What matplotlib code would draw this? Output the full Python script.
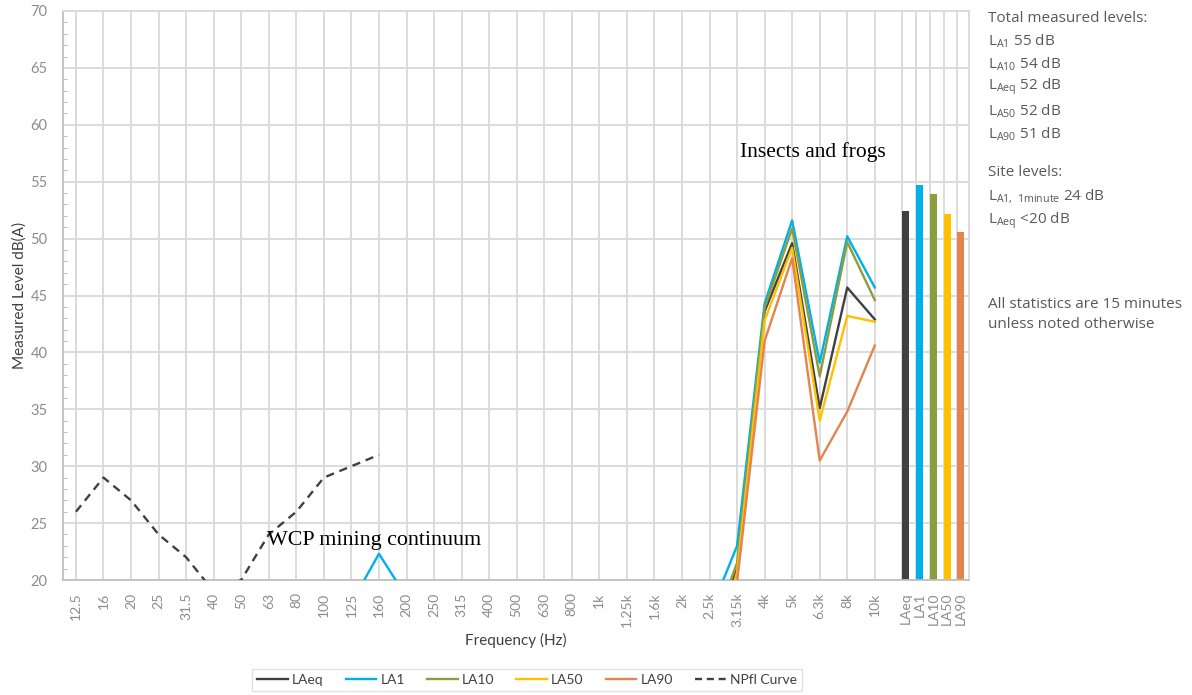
"""Third-octave spectrum at the monitoring site, with the total measured levels.

Lines are the 15 minute statistics per band, the dashed line is the NPfI
curve, and the five bars on the right are the overall A-weighted totals.
Writes out.png.
"""

import matplotlib

matplotlib.use("Agg")
import matplotlib.pyplot as plt
import numpy as np
from matplotlib.lines import Line2D

BANDS = [
    "12.5", "16", "20", "25", "31.5", "40", "50", "63", "80", "100",
    "125", "160", "200", "250", "315", "400", "500", "630", "800", "1k",
    "1.25k", "1.6k", "2k", "2.5k", "3.15k", "4k", "5k", "6.3k", "8k", "10k",
]

# dB(A) per band. Anything under 20 is hidden below the axis; those values
# only matter where a line climbs out through the bottom edge.
LAEQ = [8, 8, 8, 8, 9, 9, 10, 10, 11, 11, 12, 14, 12, 10, 9, 8, 8, 8, 8, 8,
        8, 9, 10, 14, 21.0, 43.6, 49.6, 35.1, 45.7, 42.9]
LA1 = [12, 11, 10, 10, 10, 11, 12, 13, 14, 15, 18, 22.3, 18.5, 13, 12, 11, 11, 10, 10, 10,
       10, 11, 12, 17, 23.0, 44.3, 51.6, 39.1, 50.2, 45.7]
LA10 = [9, 9, 9, 9, 9, 10, 10, 11, 12, 12, 13, 16, 13, 11, 10, 9, 9, 9, 9, 9,
        9, 10, 11, 15, 21.5, 43.9, 50.9, 37.9, 49.7, 44.6]
LA50 = [7, 7, 7, 7, 8, 8, 9, 9, 10, 10, 11, 12, 11, 9, 8, 7, 7, 7, 7, 7,
        7, 8, 9, 12, 20.7, 42.8, 49.2, 34.0, 43.2, 42.7]
LA90 = [6, 6, 6, 6, 7, 7, 8, 8, 9, 9, 10, 11, 10, 8, 7, 6, 6, 6, 6, 6,
        6, 7, 8, 11, 19.8, 41.0, 48.3, 30.5, 34.8, 40.6]

# NPfI curve, 12.5 Hz to 160 Hz
NPFI = [26, 29, 27, 24, 22, 19, 20, 24, 26, 29, 30, 31]

TOTAL_NAMES = ["LAeq", "LA1", "LA10", "LA50", "LA90"]
TOTAL_LEVELS = [52.4, 54.7, 53.9, 52.2, 50.6]

SERIES = [
    ("LAeq", LAEQ, "#404040"),
    ("LA1", LA1, "#00B0E8"),
    ("LA10", LA10, "#8A9F3B"),
    ("LA50", LA50, "#FFC000"),
    ("LA90", LA90, "#E3834F"),
]

GRID = "#D9D9D9"
TICK = "#8C8C8C"
DARK = "#404040"
FONT = ["Lato", "DejaVu Sans"]
NOTE_FONT = ["Open Sans", "DejaVu Sans"]
SERIF = ["Liberation Serif", "DejaVu Serif"]


def main() -> None:
    plt.rcParams["font.family"] = FONT
    plt.rcParams["mathtext.fontset"] = "custom"
    plt.rcParams["mathtext.rm"] = "Open Sans"

    fig = plt.figure(figsize=(11.92, 6.95), dpi=100)
    ax = fig.add_axes([63 / 1192, 1 - 580 / 695, 906 / 1192, 569 / 695])

    x = np.arange(len(BANDS))
    # totals sit in half-width slots after the last band
    bar_x = len(BANDS) + 0.5 * np.arange(len(TOTAL_NAMES))
    bar_w = 0.25

    for xv in np.concatenate([x, bar_x]):
        ax.axvline(xv, color=GRID, lw=1.3, zorder=0)
    for yv in range(20, 71, 5):
        ax.axhline(yv, color=GRID, lw=1.3, zorder=0)

    for name, vals, color in SERIES:
        ax.plot(x, vals, color=color, lw=1.7, zorder=3, label=name)
    ax.plot(x[: len(NPFI)], NPFI, color=DARK, lw=1.7, ls=(0, (3.5, 2.5)), zorder=3)

    ax.bar(bar_x, np.array(TOTAL_LEVELS) - 20, bottom=20, width=bar_w, align="edge",
           color=[c for _, _, c in SERIES], zorder=2)

    ax.set_xlim(-0.47, len(BANDS) + 2.42)
    ax.set_ylim(20, 70)
    ax.set_xticks(np.concatenate([x, bar_x + bar_w / 2]))
    ax.set_xticklabels(BANDS + TOTAL_NAMES, rotation=90, color=TICK, fontsize=10)
    ax.tick_params(axis="x", length=0, pad=9)
    ax.set_yticks(range(20, 71, 5))
    ax.set_yticks(range(20, 71), minor=True)
    ax.tick_params(axis="y", which="major", length=0, pad=11, labelcolor=TICK, labelsize=10.5)
    ax.tick_params(axis="y", which="minor", direction="in", length=3, color="#BFBFBF", width=0.8)
    for side, sp in ax.spines.items():
        sp.set_color("#BFBFBF" if side in ("left", "bottom") else GRID)
        sp.set_linewidth(1.3)

    ax.set_ylabel("Measured Level dB(A)", color=DARK, fontsize=11, labelpad=3)
    ax.set_xlabel("Frequency (Hz)", color=DARK, fontsize=11, labelpad=4)

    ax.text(24.1, 57.6, "Insects and frogs", family=SERIF, fontsize=15.5, va="center", color="black")
    ax.text(6.93, 23.5, "WCP mining continuum", family=SERIF, fontsize=15.8, va="center", color="black")

    # side notes, in figure pixels from the top
    notes = [
        (18, "Total measured levels:"),
        (41, r"L$_\mathregular{A1}$ 55 dB"),
        (64, r"L$_\mathregular{A10}$ 54 dB"),
        (87, r"L$_\mathregular{Aeq}$ 52 dB"),
        (111, r"L$_\mathregular{A50}$ 52 dB"),
        (134, r"L$_\mathregular{A90}$ 51 dB"),
        (173, "Site levels:"),
        (197, r"L$_\mathregular{A1,\ 1minute}$ 24 dB"),
        (221, r"L$_\mathregular{Aeq}$ <20 dB"),
        (304, "All statistics are 15 minutes"),
        (324, "unless noted otherwise"),
    ]
    for ypx, txt in notes:
        fig.text(988 / 1192, 1 - ypx / 695, txt, family=NOTE_FONT, fontsize=11.0,
                 color="#595959", va="center")

    handles = [Line2D([], [], color=c, lw=1.7) for _, _, c in SERIES]
    handles.append(Line2D([], [], color=DARK, lw=1.7, ls=(0, (3, 2))))
    labels = [n for n, _, _ in SERIES] + ["NPfl Curve"]
    leg = fig.legend(handles, labels, loc="center", bbox_to_anchor=(527 / 1192, 1 - 680 / 695),
                     ncol=6, fontsize=10, frameon=True, fancybox=False, edgecolor=GRID,
                     handlelength=2.2, columnspacing=1.6, handletextpad=0.3, borderpad=0.35)
    for t in leg.get_texts():
        t.set_color(DARK)
    leg.get_frame().set_linewidth(1.0)

    fig.savefig("out.png", dpi=100)


if __name__ == "__main__":
    main()
